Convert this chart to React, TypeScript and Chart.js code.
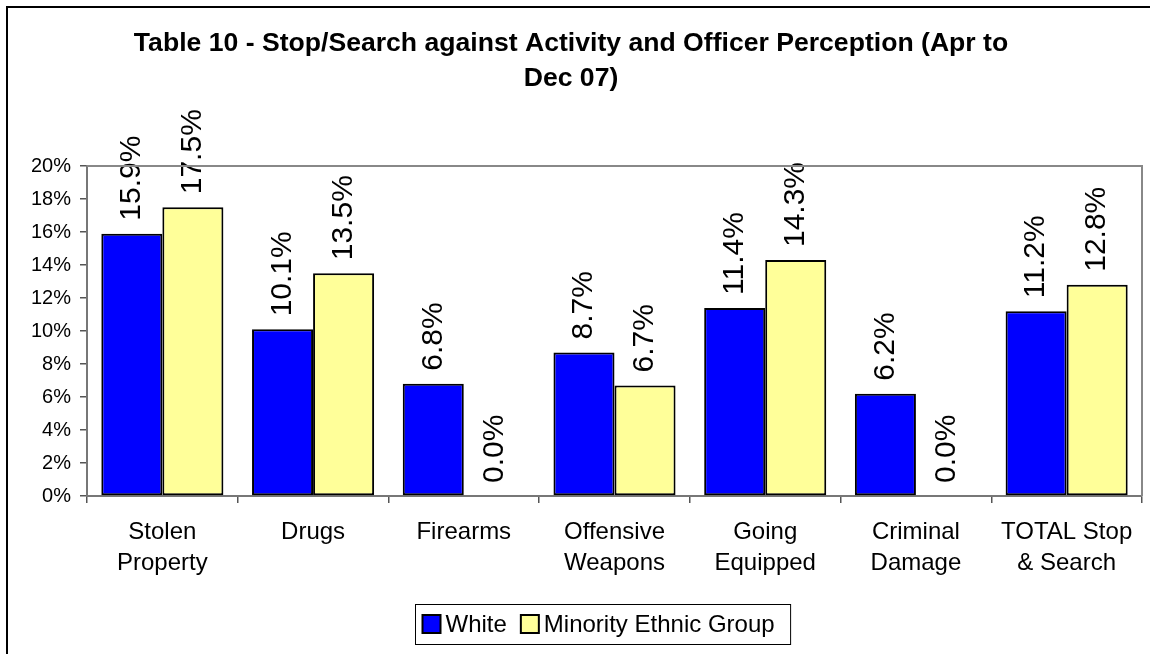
import React, { useEffect, useRef } from "react";
import { Chart, registerables } from "chart.js";

Chart.register(...registerables);

const titleLines = [
  "Table 10 - Stop/Search against Activity and Officer Perception (Apr to",
  "Dec 07)",
];
const categories: (string | string[])[] = [
  ["Stolen", "Property"],
  "Drugs",
  "Firearms",
  ["Offensive", "Weapons"],
  ["Going", "Equipped"],
  ["Criminal", "Damage"],
  ["TOTAL Stop", "& Search"],
];
const seriesNames = ["White", "Minority Ethnic Group"];
const whiteValues = [15.9, 10.1, 6.8, 8.7, 11.4, 6.2, 11.2];
const minorityValues = [17.5, 13.5, 0.0, 6.7, 14.3, 0.0, 12.8];
const yMin = 0;
const yMax = 20;
const yStep = 2;

const FONT = '"Liberation Sans", Arial, Helvetica, sans-serif';

const dataLabelPlugin = {
  id: "dataLabels",
  afterDatasetsDraw(chart: any) {
    const ctx = chart.ctx;
    ctx.save();
    ctx.font = `30px ${FONT}`;
    ctx.fillStyle = "#000";
    ctx.textAlign = "left";
    ctx.textBaseline = "middle";
    chart.data.datasets.forEach((ds: any, di: number) => {
      const meta = chart.getDatasetMeta(di);
      meta.data.forEach((el: any, i: number) => {
        const v = ds.data[i] as number;
        ctx.save();
        ctx.translate(el.x, el.y - 13);
        ctx.rotate(-Math.PI / 2);
        ctx.fillText(v.toFixed(1) + "%", 0, 0);
        ctx.restore();
      });
    });
    ctx.restore();
  },
};

const frameAndLegendPlugin = {
  id: "frameAndLegend",
  afterDraw(chart: any) {
    const ctx = chart.ctx;
    const a = chart.chartArea;
    ctx.save();
    // plot area top/right border
    ctx.strokeStyle = "#888";
    ctx.lineWidth = 2;
    ctx.beginPath();
    ctx.moveTo(a.left, a.top);
    ctx.lineTo(a.right, a.top);
    ctx.lineTo(a.right, a.bottom);
    ctx.stroke();

    // legend
    ctx.font = `24px ${FONT}`;
    const items = chart.data.datasets.map((ds: any) => ({
      label: ds.label as string,
      color: ds.backgroundColor as string,
      w: ctx.measureText(ds.label).width,
    }));
    const marker = 18;
    const gapText = 5;
    const gapItem = 14;
    const padL = 7;
    const padR = 16;
    let content = 0;
    items.forEach((it: any, i: number) => {
      content += marker + gapText + it.w + (i < items.length - 1 ? gapItem : 0);
    });
    const boxW = padL + content + padR;
    const boxH = 40;
    const cx = 603;
    const boxTop = 604;
    const boxLeft = Math.round(cx - boxW / 2) + 0.5;
    ctx.strokeStyle = "#000";
    ctx.lineWidth = 1;
    ctx.strokeRect(boxLeft, boxTop + 0.5, boxW, boxH);
    let x = boxLeft + padL;
    const midY = boxTop + boxH / 2;
    items.forEach((it: any) => {
      ctx.fillStyle = it.color;
      ctx.fillRect(x, midY - marker / 2, marker, marker);
      ctx.strokeStyle = "#000";
      ctx.lineWidth = 2;
      ctx.strokeRect(x, midY - marker / 2, marker, marker);
      x += marker + gapText;
      ctx.fillStyle = "#000";
      ctx.textAlign = "left";
      ctx.textBaseline = "middle";
      ctx.fillText(it.label, x, midY + 1);
      x += it.w + gapItem;
    });
    ctx.restore();
  },
};

export default function App() {
  const canvasRef = useRef<HTMLCanvasElement | null>(null);

  useEffect(() => {
    const canvas = canvasRef.current;
    if (!canvas) return;
    const chart = new Chart(canvas, {
      type: "bar",
      data: {
        labels: categories as any,
        datasets: [
          {
            label: seriesNames[0],
            data: whiteValues,
            backgroundColor: "#0000FF",
            borderColor: "#000000",
            borderWidth: 2,
            borderSkipped: false,
          },
          {
            label: seriesNames[1],
            data: minorityValues,
            backgroundColor: "#FFFF99",
            borderColor: "#000000",
            borderWidth: 2,
            borderSkipped: false,
          },
        ],
      },
      options: {
        responsive: false,
        animation: false,
        events: [],
        datasets: {
          bar: {
            categoryPercentage: 0.81,
            barPercentage: 1.0,
          },
        },
        layout: {
          padding: { left: 0, right: 8, top: 0, bottom: 0 },
        },
        plugins: {
          legend: { display: false },
          tooltip: { enabled: false },
          title: {
            display: true,
            text: titleLines,
            color: "#000",
            font: { family: FONT, size: 26.6, weight: "bold", lineHeight: 35 / 26.6 },
            padding: { top: 26.5, bottom: 69.5 },
          },
        },
        scales: {
          x: {
            grid: {
              display: true,
              drawOnChartArea: false,
              drawTicks: true,
              tickLength: 7,
              color: "#555",
              lineWidth: 1.5,
              offset: true,
            },
            border: { display: true, color: "#777", width: 2 },
            ticks: {
              color: "#000",
              font: { family: FONT, size: 24, lineHeight: 31 / 24 },
              padding: 14,
              maxRotation: 0,
              autoSkip: false,
            },
            afterFit(scale: any) {
              scale.height = 158;
            },
          },
          y: {
            min: yMin,
            max: yMax,
            grid: {
              display: true,
              drawOnChartArea: false,
              drawTicks: true,
              tickLength: 7,
              color: "#555",
              lineWidth: 1.5,
            },
            border: { display: true, color: "#777", width: 2 },
            ticks: {
              stepSize: yStep,
              color: "#000",
              font: { family: FONT, size: 20 },
              padding: 9,
              callback: (v: any) => `${v}%`,
            },
            afterFit(scale: any) {
              scale.width = 87;
            },
          },
        },
      },
      plugins: [dataLabelPlugin, frameAndLegendPlugin],
    });
    return () => chart.destroy();
  }, []);

  return (
    <div
      style={{
        position: "fixed",
        left: 0,
        top: 0,
        width: 1150,
        height: 654,
        overflow: "hidden",
        background: "#fff",
      }}
    >
      <div
        style={{
          position: "absolute",
          left: 6,
          top: 6,
          width: 1300,
          height: 800,
          borderLeft: "2px solid #000",
          borderTop: "2px solid #000",
        }}
      />
      <canvas
        ref={canvasRef}
        width={1150}
        height={654}
        style={{ position: "absolute", left: 0, top: 0, width: 1150, height: 654 }}
      />
    </div>
  );
}
